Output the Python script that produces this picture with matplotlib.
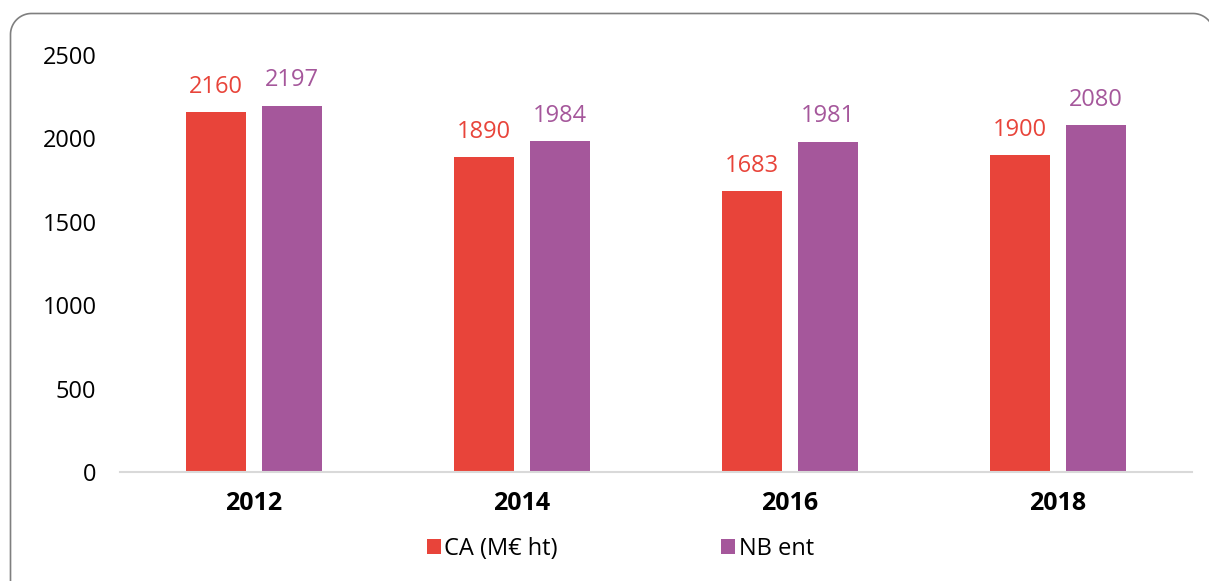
import numpy as np
import matplotlib.pyplot as plt
from matplotlib.lines import Line2D

plt.rcParams['font.family'] = ['Open Sans', 'DejaVu Sans']

years = ['2012', '2014', '2016', '2018']
ca = [2160, 1890, 1683, 1900]
nb_ent = [2197, 1984, 1981, 2080]
series_names = ['CA (M\u20ac ht)', 'NB ent']
red = '#E8443A'
purple = '#A5579B'

W, H = 1209, 581
fig = plt.figure(figsize=(W / 100, H / 100), dpi=100)
ax = fig.add_axes([0.0993, 0.1876, 0.8867, 0.7177])

x = np.arange(len(years))
w = 0.224
off = 0.142
b1 = ax.bar(x - off, ca, w, color=red, label=series_names[0])
b2 = ax.bar(x + off, nb_ent, w, color=purple, label=series_names[1])

for bars, col in [(b1, red), (b2, purple)]:
    for r in bars:
        ax.annotate(str(int(r.get_height())),
                    (r.get_x() + r.get_width() / 2, r.get_height()),
                    xytext=(0, 9.5), textcoords='offset points',
                    ha='center', va='bottom', color=col, fontsize=17)

ax.set_xlim(-0.5, len(years) - 0.5)
ax.set_ylim(0, 2500)
ax.set_yticks(range(0, 2501, 500))
ax.set_xticks(x)
ax.set_xticklabels(years, fontweight='bold')
ax.tick_params(axis='y', length=0, pad=17, labelsize=17)
ax.tick_params(axis='x', length=0, pad=14, labelsize=18)
for s in ['top', 'right', 'left']:
    ax.spines[s].set_visible(False)
ax.spines['bottom'].set_color('#d9d9d9')
ax.spines['bottom'].set_linewidth(1.5)

fig.legend(loc='center', bbox_to_anchor=(0.513, 1 - 549 / H), ncol=2,
           frameon=False, fontsize=17, handlelength=0.6, handleheight=0.6,
           handletextpad=0.15, columnspacing=6.9)

# rounded outer frame (pixel coords, y down), cut off at right and bottom
L, T, R, B, rad = 10.5, 13.5, 1214, 600, 21
t = np.linspace(0, np.pi / 2, 30)
px = np.concatenate([[L], L + rad - rad * np.cos(t), R - rad + rad * np.sin(t), [R]])
py = np.concatenate([[B], T + rad - rad * np.sin(t), T + rad - rad * np.cos(t), [B]])
fig.lines.append(Line2D(px / W, 1 - py / H, transform=fig.transFigure,
                        color='#7f7f7f', linewidth=1.2))

fig.savefig('out.png', dpi=100)
